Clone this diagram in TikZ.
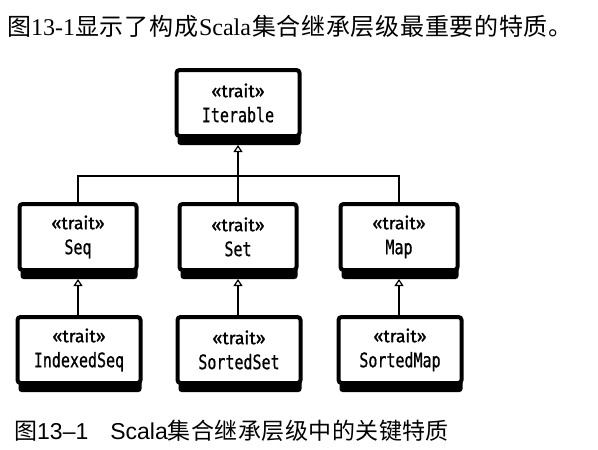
\documentclass[tikz,border=0pt]{standalone}
\usepackage{fontspec}
\setmainfont{Liberation Serif}
\newfontfamily\cjk{Noto Sans CJK SC}[LetterSpace=3]
\newfontfamily\cjkcap{Noto Sans CJK SC}[LetterSpace=2]
\newfontfamily\capsans{Liberation Sans}
\newfontfamily\namefont{DejaVu Sans Mono}[FakeStretch=0.75, FakeBold=0.7]
\newfontfamily\traitfont{Fira Sans}[FakeBold=1.4]
\usetikzlibrary{arrows.meta,shadows}
\tikzset{
  traitbox/.style={rectangle, rounded corners=3pt, draw=black, line width=4pt,
    fill=white, minimum height=66pt, inner sep=0pt, align=center,
    font=\fontsize{18}{25}\selectfont,
    drop shadow={shadow xshift=1pt, shadow yshift=-9pt, fill=black, opacity=1}},
  rowa/.style={traitbox, minimum width=117pt},
  rowb/.style={traitbox, minimum width=123pt},
  link/.style={line width=1.3pt, draw=black},
  inherit/.style={link, -{Triangle[open, width=9pt, length=7pt, line width=1.2pt]}, shorten >=7pt},
  titletext/.style={anchor=base west, inner sep=0pt, font=\fontsize{24}{28}\selectfont},
  captext/.style={anchor=base west, inner sep=0pt, font=\fontsize{23}{26}\selectfont}
}
\newcommand{\tr}[1]{{\traitfont\fontsize{17.5}{25}\selectfont «trait»}\\{\namefont\fontsize{20}{25}\selectfont #1}}
\begin{document}
\begin{tikzpicture}[x=1pt, y=-1pt]
  \fill[white] (0,0) rectangle (598,450);
  \useasboundingbox (0,0) rectangle (598,450);

  \node[titletext] (title) at (7,35) {{\cjk 图}13-1{\cjk 显示了构成}\hspace{1pt}Scala\hspace{1pt}{\cjk 集合继承层级最重要的特质。}};

  \node[rowb] (iter) at (238,103) {\tr{Iterable}};

  \node[rowa] (seq) at (78,237) {\tr{Seq}};
  \node[rowa] (set) at (238,237) {\tr{Set}};
  \node[rowa] (map) at (399,237) {\tr{Map}};

  \node[rowb] (iseq) at (79,350) {\tr{IndexedSeq}};
  \node[rowb] (sset) at (239,350) {\tr{SortedSet}};
  \node[rowb] (smap) at (400,350) {\tr{SortedMap}};

  \coordinate (j) at (238,176);
  \draw[link] (seq.north) |- (j) -| (map.north);
  \draw[inherit] (set.north) -- (iter.south);

  \draw[inherit] (iseq.north -| seq.south) -- (seq.south);
  \draw[inherit] (sset.north -| set.south) -- (set.south);
  \draw[inherit] (smap.north -| map.south) -- (map.south);

  \node[captext] (cap) at (14,439) {{\cjkcap 图}{\capsans 13–1}\hspace{22pt}{\capsans Scala}{\cjkcap 集合继承层级中的关键特质}};
\end{tikzpicture}
\end{document}
